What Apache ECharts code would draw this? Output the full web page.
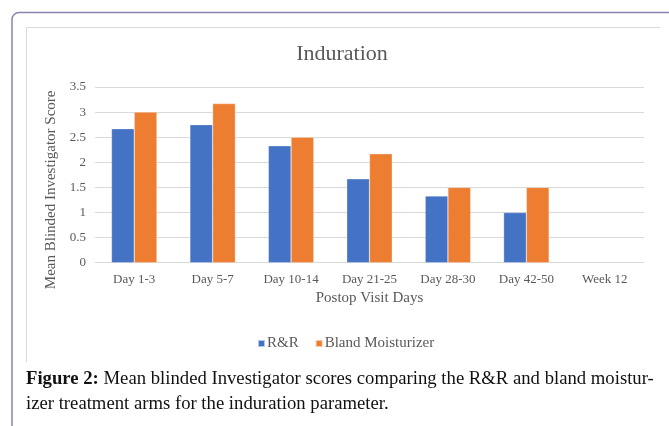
<!DOCTYPE html>
<html>
<head>
<meta charset="utf-8">
<script src="https://cdn.jsdelivr.net/npm/echarts@6/dist/echarts.min.js"></script>
<style>
html,body{margin:0;padding:0;background:#fff;}
#chart{width:669px;height:426px;}
</style>
</head>
<body>
<div id="chart"></div>
<script>
const categories = ['Day 1-3', 'Day 5-7', 'Day 10-14', 'Day 21-25', 'Day 28-30', 'Day 42-50', 'Week 12'];
const rrValues = [2.67, 2.75, 2.33, 1.67, 1.33, 1.0, null];
const blandValues = [3.0, 3.17, 2.5, 2.17, 1.5, 1.5, null];
const seriesNames = ['R&R', 'Bland Moisturizer'];
const titleText = 'Induration';
const xAxisName = 'Postop Visit Days';
const yAxisName = 'Mean Blinded Investigator Score';
const captionBold = 'Figure 2:';
const captionLine1 = ' Mean blinded Investigator scores comparing the R&R and bland moistur-';
const captionLine2 = 'izer treatment arms for the induration parameter.';

const serif = '"Liberation Serif", "Times New Roman", serif';
const gray = '#595959';

const chart = echarts.init(document.getElementById('chart'), null, {renderer: 'canvas'});
chart.setOption({
  backgroundColor: '#fff',
  animation: false,
  title: {
    text: titleText,
    left: 342,
    top: 43,
    padding: 0,
    textAlign: 'center',
    textStyle: {fontFamily: serif, fontSize: 22, fontWeight: 'normal', color: gray}
  },
  legend: {
    data: seriesNames,
    left: 252,
    top: 331,
    itemWidth: 7,
    itemHeight: 7,
    itemGap: 16,
    icon: 'rect',
    textStyle: {fontFamily: serif, fontSize: 15, color: gray, padding: [0, 0, 0, -3]}
  },
  grid: {left: 95, right: 25, top: 87, bottom: 163.3, containLabel: false},
  xAxis: {
    type: 'category',
    data: categories,
    name: xAxisName,
    nameLocation: 'middle',
    nameGap: 28,
    nameTextStyle: {fontFamily: serif, fontSize: 15, color: gray},
    axisLine: {show: true, lineStyle: {color: '#d9d9d9', width: 1}},
    axisTick: {show: false},
    axisLabel: {fontFamily: serif, fontSize: 13, color: gray, margin: 10, interval: 0}
  },
  yAxis: {
    type: 'value',
    min: 0,
    max: 3.5,
    interval: 0.5,
    name: yAxisName,
    nameLocation: 'middle',
    nameGap: 26,
    nameTextStyle: {fontFamily: serif, fontSize: 15, color: gray, padding: [0, 30, 0, 0]},
    axisLine: {show: false},
    axisTick: {show: false},
    splitLine: {lineStyle: {color: '#d9d9d9', width: 1}},
    axisLabel: {fontFamily: serif, fontSize: 13, color: gray, margin: 9}
  },
  series: [
    {
      name: seriesNames[0],
      type: 'bar',
      data: rrValues,
      barGap: '0%',
      barCategoryGap: '42%',
      itemStyle: {color: '#4472C4', borderColor: 'rgba(255,255,255,0.6)', borderWidth: 0.5}
    },
    {
      name: seriesNames[1],
      type: 'bar',
      data: blandValues,
      barGap: '0%',
      barCategoryGap: '42%',
      itemStyle: {color: '#ED7D31', borderColor: 'rgba(255,255,255,0.6)', borderWidth: 0.5}
    }
  ],
  graphic: [
    {
      type: 'rect', silent: true, z: -10,
      shape: {x: 12, y: 12.5, width: 680, height: 440, r: 7},
      style: {fill: 'none', stroke: '#8a84b2', lineWidth: 1.5}
    },
    {
      type: 'polyline', silent: true, z: -10,
      shape: {points: [[26.5, 362], [26.5, 27.5], [660, 27.5]]},
      style: {fill: 'none', stroke: '#d9d9d9', lineWidth: 1}
    },
    {
      type: 'text', left: 26, top: 370,
      style: {
        text: '{b|' + captionBold + '}' + captionLine1,
        font: '18.7px ' + serif,
        fill: '#111',
        rich: {b: {fontWeight: 'bold', fontFamily: serif, fontSize: 18.7, fill: '#111'}}
      }
    },
    {
      type: 'text', left: 26, top: 395,
      style: {text: captionLine2, font: '18.7px ' + serif, fill: '#111'}
    }
  ]
});
</script>
</body>
</html>
